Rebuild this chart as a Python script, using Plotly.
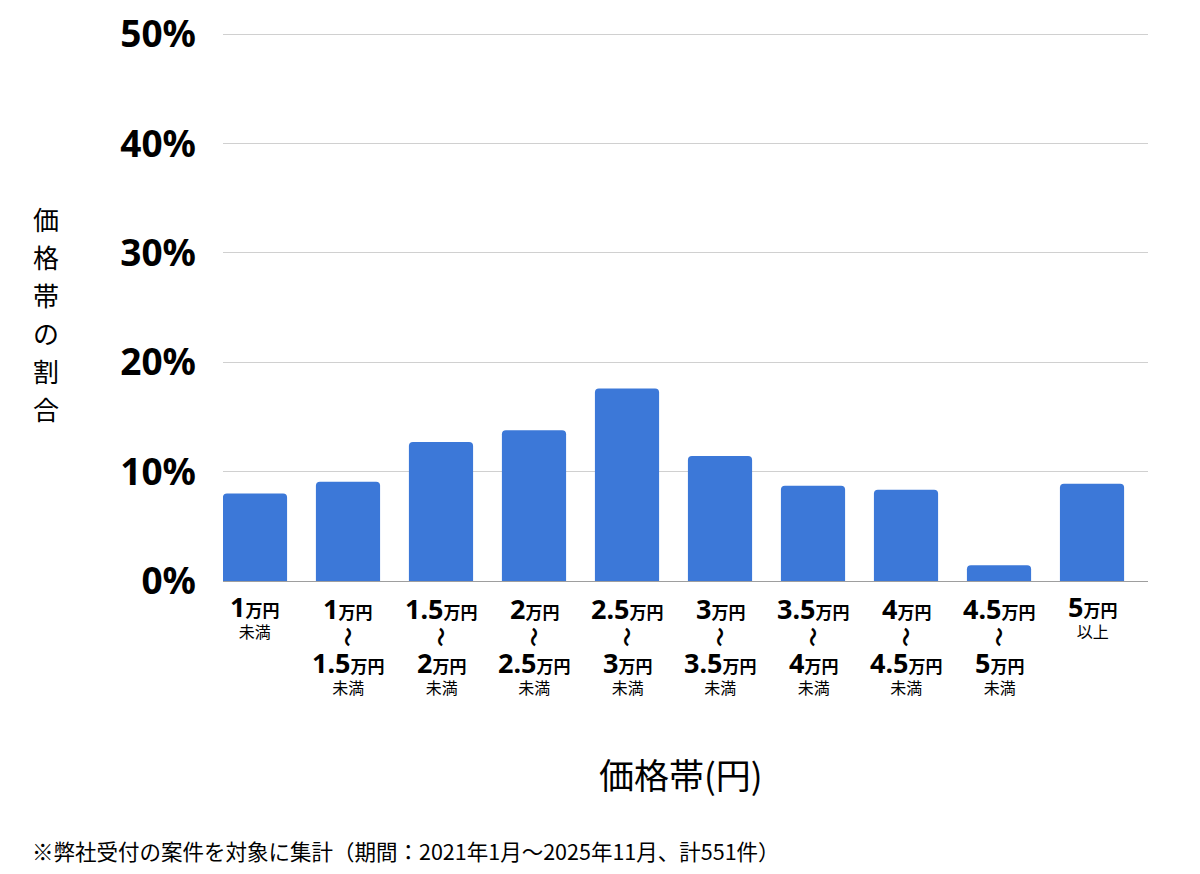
import plotly.graph_objects as go

# ---- data ----
categories = ["1万円未満", "1〜1.5万円", "1.5〜2万円", "2〜2.5万円", "2.5〜3万円",
              "3〜3.5万円", "3.5〜4万円", "4〜4.5万円", "4.5〜5万円", "5万円以上"]
share_pct = [7.99, 9.07, 12.70, 13.79, 17.60, 11.43, 8.71, 8.35, 1.45, 8.89]
label_top = ["1", "1", "1.5", "2", "2.5", "3", "3.5", "4", "4.5", "5"]
label_bottom = ["", "1.5", "2", "2.5", "3", "3.5", "4", "4.5", "5", ""]
label_suffix = ["未満", "未満", "未満", "未満", "未満", "未満", "未満", "未満", "未満", "以上"]
y_ticks = [0, 10, 20, 30, 40, 50]
y_ticktext = ["0%", "10%", "20%", "30%", "40%", "50%"]
y_title_chars = ["価", "格", "帯", "の", "割", "合"]
x_title = "価格帯(円)"
footnote = "※弊社受付の案件を対象に集計（期間：2021年1月〜2025年11月、計551件）"

OFF = 8  # default page body margin in the browser
W, H = 1200 - OFF, 874 - OFF
Y_MAX = 50.2
PLOT_BOTTOM = 581 - OFF
PLOT_TOP = PLOT_BOTTOM - 547 * Y_MAX / 50
PLOT_LEFT, PLOT_RIGHT = 223 - OFF, 1148 - OFF
CJK = "Noto Sans CJK JP"
NUMF = "Noto Sans, Noto Sans CJK JP"


def py(y):
    return (PLOT_BOTTOM - (y - OFF)) / (PLOT_BOTTOM - PLOT_TOP)


def px(x):
    return ((x - OFF) - PLOT_LEFT) / (PLOT_RIGHT - PLOT_LEFT)


fig = go.Figure(go.Bar(
    x=categories, y=share_pct,
    marker=dict(color="#3c78d8", line=dict(width=0)),
    width=0.69,
    hoverinfo="skip",
))

annotations = []
unit = "<span style='font-size:17px'>万円</span>"


def amount(v):
    return f"<b><span style='font-size:27px'>{v}</span>{unit}</b>"


for cat, top, bot, suf in zip(categories, label_top, label_bottom, label_suffix):
    suffix = f"<span style='font-size:16px'>{suf}</span>"
    if bot:
        annotations.append(dict(
            x=cat, xref="x", y=py(609), yref="paper", showarrow=False,
            text=amount(top), font=dict(family=NUMF, size=16, color="#000"),
            xanchor="center", yanchor="middle"))
        annotations.append(dict(
            x=cat, xref="x", y=py(637), yref="paper", showarrow=False,
            text="<b>〜</b>", textangle=90,
            font=dict(family=CJK, size=20, color="#000"),
            xanchor="center", yanchor="middle"))
        annotations.append(dict(
            x=cat, xref="x", y=py(642), yref="paper", showarrow=False,
            text=amount(bot) + "<br>" + suffix,
            font=dict(family=NUMF, size=16, color="#000"),
            xanchor="center", yanchor="top", align="center"))
    else:
        annotations.append(dict(
            x=cat, xref="x", y=py(586), yref="paper", showarrow=False,
            text=amount(top) + "<br>" + suffix,
            font=dict(family=NUMF, size=16.5, color="#000"),
            xanchor="center", yanchor="top", align="center"))

# vertical y-axis title
for i, ch in enumerate(y_title_chars):
    annotations.append(dict(
        x=px(46), xref="paper", y=py(218 + i * 38), yref="paper", showarrow=False,
        text=ch, font=dict(family=CJK, size=26, color="#000"),
        xanchor="center", yanchor="middle"))

# x-axis title
annotations.append(dict(
    x=px(681), xref="paper", y=py(774), yref="paper", showarrow=False,
    text=x_title, font=dict(family=CJK, size=35, color="#000"),
    xanchor="center", yanchor="middle"))

# footnote
annotations.append(dict(
    x=px(30), xref="paper", y=py(851), yref="paper", showarrow=False,
    text=footnote, font=dict(family=CJK, size=21.5, color="#000"),
    xanchor="left", yanchor="middle"))

fig.update_layout(
    width=W, height=H,
    margin=dict(l=PLOT_LEFT, r=W - PLOT_RIGHT, t=PLOT_TOP, b=H - PLOT_BOTTOM, pad=0,
                autoexpand=False),
    paper_bgcolor="white", plot_bgcolor="white",
    barcornerradius=4,
    showlegend=False,
    annotations=annotations,
    xaxis=dict(
        type="category", range=[-0.344, 9.602],
        showticklabels=False, showgrid=False, ticks="",
        showline=True, linecolor="#9e9e9e", linewidth=1,
        zeroline=False, fixedrange=True, automargin=False,
    ),
    yaxis=dict(
        range=[0, Y_MAX], tickvals=y_ticks, ticktext=y_ticktext,
        tickfont=dict(family="Noto Sans", size=37, color="#000", weight="bold"),
        showgrid=True, gridcolor="#d0d0d0", gridwidth=1,
        zeroline=False, ticks="", ticklabelstandoff=26,
        ticklabeloverflow="allow", automargin=False,
        fixedrange=True,
    ),
)

fig.write_html("out.html")
